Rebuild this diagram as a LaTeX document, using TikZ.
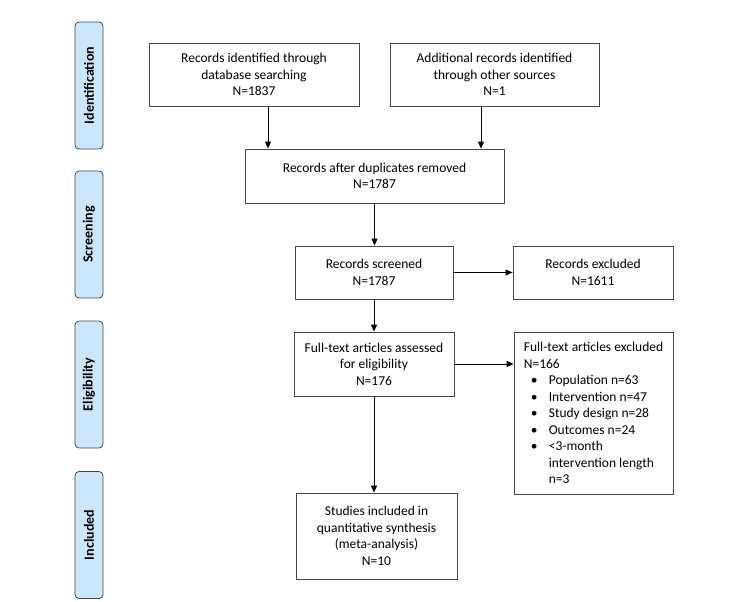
\documentclass[tikz,border=0pt]{standalone}
\usepackage{fontspec}
\setmainfont{Carlito}
\usepackage{xcolor}
\usepackage{tikz}
\usetikzlibrary{arrows.meta}

\definecolor{phaseblue}{RGB}{204,230,252}
\definecolor{edgegray}{RGB}{70,70,70}
\newcommand{\bitem}[1]{\hspace*{7pt}\makebox[18pt][l]{\textbullet}#1}

\begin{document}
\begin{tikzpicture}[x=1pt, y=-1pt,
    every node/.style={font=\fontsize{13.5}{16.5}\selectfont},
    flowbox/.style={draw=edgegray, line width=0.8pt, rectangle, align=center, inner sep=0pt},
    phase/.style={draw=edgegray, line width=0.8pt, fill=phaseblue, rounded corners=4pt, rotate=90,
        minimum width=127pt, minimum height=28pt, inner sep=0pt, font=\fontsize{14}{16}\selectfont\bfseries},
    arr/.style={-{Triangle[length=7pt,width=6pt]}, line width=0.9pt, black}]
        \useasboundingbox (0,0) rectangle (750,602);

        % phase labels
        \node[phase] (ident) at (89,85.5) {Identification};
        \node[phase] (screen) at (89,234.5) {Screening};
        \node[phase] (elig) at (89,384.5) {Eligibility};
        \node[phase] (incl) at (89,535) {Included};

        % flow boxes
        \node[flowbox, minimum width=210pt, minimum height=63pt] (dbrec) at (254,74.5) {Records identified through\\database searching\\N=1837};
        \node[flowbox, minimum width=209pt, minimum height=63pt] (otherrec) at (494.5,74.5) {Additional records identified\\through other sources\\N=1};
        \node[flowbox, minimum width=259pt, minimum height=54pt] (dedup) at (374.5,176) {Records after duplicates removed\\N=1787};
        \node[flowbox, minimum width=158pt, minimum height=53pt] (screened) at (374,272.5) {Records screened\\N=1787};
        \node[flowbox, minimum width=160pt, minimum height=53pt] (excluded) at (593,272.5) {Records excluded\\N=1611};
        \node[flowbox, minimum width=160pt, minimum height=64pt] (fulltext) at (374,364) {Full-text articles assessed\\for eligibility\\N=176};
        \node[flowbox, minimum width=159pt, minimum height=162pt, align=left] (ftexcl) at (593.5,413)
            {Full-text articles excluded\\N=166\\\bitem{Population n=63}\\\bitem{Intervention n=47}\\\bitem{Study design n=28}\\\bitem{Outcomes n=24}\\\bitem{<3-month}\\\hspace*{25pt}intervention length\\\hspace*{25pt}n=3};
        \node[flowbox, minimum width=161pt, minimum height=86pt] (included) at (376.5,536) {Studies included in\\quantitative synthesis\\(meta-analysis)\\N=10};

        % connectors
        \draw[arr] ([xshift=14pt]dbrec.south) -- ([xshift=14pt]dbrec.south |- dedup.north);
        \draw[arr] ([xshift=-13.5pt]otherrec.south) -- ([xshift=-13.5pt]otherrec.south |- dedup.north);
        \draw[arr] (dedup.south) -- (dedup.south |- screened.north);
        \draw[arr] (screened.east) -- (excluded.west);
        \draw[arr] (screened.south) -- (fulltext.north);
        \draw[arr] (fulltext.east) -- (fulltext.east -| ftexcl.west);
        \draw[arr] (fulltext.south) -- (fulltext.south |- included.north);
    \end{tikzpicture}
\end{document}
